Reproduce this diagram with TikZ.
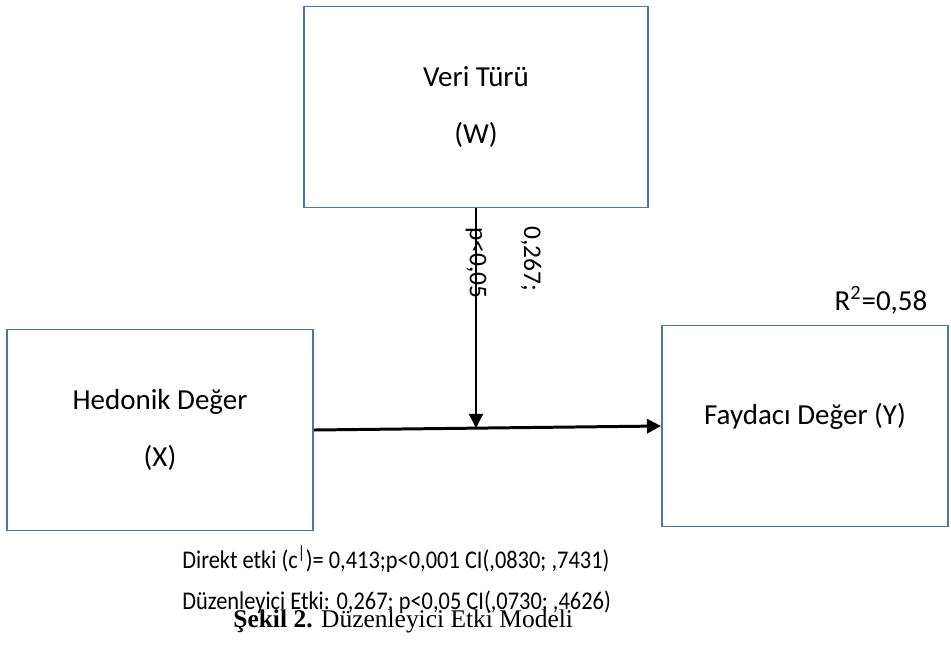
\documentclass[tikz,border=0pt]{standalone}
\usepackage{fontspec}
\setmainfont{Carlito}
\newfontfamily\captionfont{Liberation Serif}
\usepackage{tikz}
\usetikzlibrary{arrows.meta,positioning}
\definecolor{boxblue}{HTML}{4A76A8}

\begin{document}
\begin{tikzpicture}[
    x=0.02cm, y=-0.02cm,
    font=\fontsize{16.5pt}{20pt}\selectfont,
    >={Triangle[length=8pt,width=8pt]},
    var/.style={
		rectangle,
		draw=boxblue,
		line width=1.1pt,
		text centered,
		align=center,
		fill=white
	},
	lbl/.style={
		rotate=-90,
		inner sep=0pt,
		font=\fontsize{14.5pt}{17pt}\selectfont
	},
	note/.style={
		anchor=base west,
		inner sep=0pt,
		font=\fontsize{14.5pt}{17pt}\selectfont
	}
  ]
  \useasboundingbox (0,0) rectangle (951,664);

  % the three variables
  \node [var, minimum width=344*0.02cm, minimum height=201*0.02cm] (veri) at (476,107)
    {Veri Türü\\[12pt](W)};

  \node [var, minimum width=306*0.02cm, minimum height=201*0.02cm] (hedonik) at (160,430)
    {Hedonik Değer\\[12pt](X)};

  \node [var, minimum width=286*0.02cm, minimum height=201*0.02cm] (faydaci) at (805,426)
    {\raisebox{14pt}{Faydacı Değer (Y)}};

  \node (r2) at (881,300) {R\textsuperscript{2}=0,58};

  % paths
  \coordinate (meet) at (veri.south |- 0,428);
  \draw [line width=1.7pt,->] (hedonik.east) -- (faydaci.west);
  \draw [line width=0.8pt,->] (veri.south) -- (meet);

  \node [lbl] (plbl) at (476,263) {p<0,05};
  \node [lbl] (blbl) at (531,259) {0,267;};

  % results below
  \node [note] (direkt) at (182,568)
    {\scalebox{0.88}[1]{Direkt etki (c\textsuperscript{|})= 0,413;p<0,001 CI(,0830; ,7431)}};
  \node [note] (duz) at (182,609)
    {\scalebox{0.88}[1]{Düzenleyici Etki: 0,267; p<0,05 CI(,0730; ,4626)}};
  \node [note, font=\captionfont\fontsize{14.5pt}{17pt}\selectfont] (caption) at (233,627)
    {\textbf{Şekil 2.} Düzenleyici Etki Modeli};

\end{tikzpicture}
\end{document}
